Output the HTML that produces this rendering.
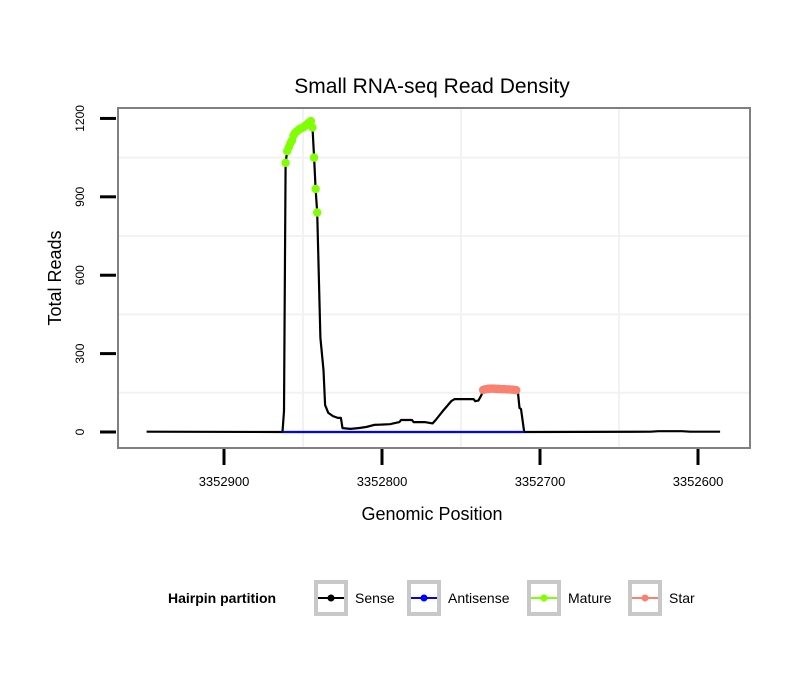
<!DOCTYPE html>
<html><head><meta charset="utf-8"><style>
body{margin:0;background:#fff;}
svg{display:block;font-family:"Liberation Sans",sans-serif;}
</style></head><body>
<svg id="chart" width="810" height="690" viewBox="0 0 810 690">
<rect width="810" height="690" fill="#fff"/>
<text x="432" y="93" font-size="21" text-anchor="middle">Small RNA-seq Read Density</text>
<g id="grid"></g>
<g id="series"></g>
<rect x="118" y="108" width="632" height="340" fill="none" stroke="#808080" stroke-width="2"/>
<g id="axes"></g>
<text x="432" y="520" font-size="18" text-anchor="middle">Genomic Position</text>
<text transform="translate(61,278) rotate(-90)" font-size="18" text-anchor="middle">Total Reads</text>
<g id="legend">
<text x="168" y="603" font-size="14" font-weight="bold">Hairpin partition</text>
</g>
</svg>
<script>
const xTicks=[3352900,3352800,3352700,3352600];
const yTicks=[0,300,600,900,1200];
const antisensePos=[3352863,3352710];
const antisenseVal=[0,0];
const maturePos=[3352861,3352860,3352859,3352858,3352857,3352856,3352855,3352854,3352853,3352852,3352851,3352850,3352849,3352848,3352847,3352846,3352845,3352844,3352843,3352842,3352841];
const matureVal=[1030,1075,1090,1105,1115,1135,1145,1150,1155,1160,1162,1165,1170,1175,1180,1185,1190,1165,1050,930,840];
const starPos=[3352736,3352735,3352734,3352733,3352732,3352731,3352730,3352729,3352728,3352727,3352726,3352725,3352724,3352723,3352722,3352721,3352720,3352719,3352718,3352717,3352716,3352715];
const starVal=[161,163,164,165,166,166,166,166,165,165,165,164,164,164,164,163,163,163,162,162,161,160];
const sensePos=[3352949,3352863,3352862,3352839,3352837,3352836,3352834,3352831,3352828,3352826,3352825,3352820,3352815,3352810,3352805,3352795,3352789,3352788,3352781,3352780,3352773,3352768,3352766,3352761,3352756,3352754,3352742,3352741,3352739,3352737,3352714,3352713,3352712,3352710,3352630,3352625,3352610,3352605,3352586];
const senseVal=[1,0,80,360,237,103,73,61,54,54,15,12,15,19,27,30,38,46,46,38,38,33,46,84,119,126,126,118,120,142,153,92,88,0,1,3,3,1,1];

const X=p=>224+(3352900-p)*1.58;
const Y=v=>432-v*0.2613;
const NS='http://www.w3.org/2000/svg';
function mk(tag,attrs,parent){const e=document.createElementNS(NS,tag);for(const k in attrs)e.setAttribute(k,attrs[k]);parent.appendChild(e);return e;}
const grid=document.getElementById('grid'),axes=document.getElementById('axes'),series=document.getElementById('series'),legend=document.getElementById('legend');
mk('rect',{x:118,y:108,width:632,height:340,fill:'#fff'},grid);
const gx=[3352850,3352750,3352650];
gx.forEach(p=>{const l=mk('line',{x1:X(p),x2:X(p),y1:109,y2:447,stroke:'#f2f2f2','stroke-width':2},grid);

});
[150,450,750,1050].forEach(v=>{const l=mk('line',{x1:119,x2:749,y1:Y(v),y2:Y(v),stroke:'#f2f2f2','stroke-width':2},grid);

});
xTicks.forEach(p=>{const t=mk('line',{x1:X(p),x2:X(p),y1:449,y2:465,stroke:'#000','stroke-width':3},axes);


const tx=mk('text',{x:X(p),y:486,'font-size':13,'text-anchor':'middle'},axes);tx.textContent=p;

});
yTicks.forEach(v=>{const t=mk('line',{x1:100,x2:116,y1:Y(v),y2:Y(v),stroke:'#000','stroke-width':3},axes);


const tx=mk('text',{transform:`translate(84,${Y(v)}) rotate(-90)`,'font-size':12,'text-anchor':'middle'},axes);tx.textContent=v;

});
const all=[];sensePos.forEach((p,i)=>all.push([p,senseVal[i]]));maturePos.forEach((p,i)=>all.push([p,matureVal[i]]));starPos.forEach((p,i)=>all.push([p,starVal[i]]));
all.sort((a,b)=>b[0]-a[0]);
const pts=a=>a.map(d=>X(d[0]).toFixed(1)+','+Y(d[1]).toFixed(1)).join(' ');
const sl=mk('polyline',{points:pts(all),fill:'none',stroke:'#000','stroke-width':2.2,'stroke-linejoin':'round'},series);


const al=mk('polyline',{points:pts(antisensePos.map((p,i)=>[p,antisenseVal[i]])),fill:'none',stroke:'#0000ff','stroke-width':2.2},series);


maturePos.forEach((p,i)=>{const c=mk('circle',{cx:X(p),cy:Y(matureVal[i]),r:4.2,fill:'#7fff00'},series);

});
starPos.forEach((p,i)=>{const c=mk('circle',{cx:X(p),cy:Y(starVal[i]),r:4.2,fill:'#fa8072'},series);

});
const leg=[['Sense','#000',314],['Antisense','#0000ff',407],['Mature','#7fff00',527],['Star','#fa8072',628]];
leg.forEach(([n,c,x])=>{const b=mk('rect',{x:x+2,y:582,width:30,height:32,fill:'#fff',stroke:'#c8c8c8','stroke-width':4},legend);


mk('line',{x1:x+4,x2:x+30,y1:598,y2:598,stroke:c,'stroke-width':2},legend);
mk('circle',{cx:x+17,cy:598,r:3.5,fill:c},legend);
const t=mk('text',{x:x+41,y:603,'font-size':14},legend);t.textContent=n;

});
</script>
</body></html>
